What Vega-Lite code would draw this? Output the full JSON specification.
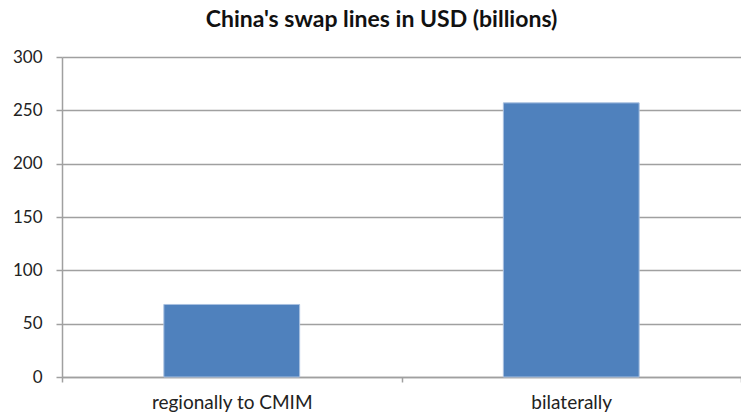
{
  "$schema": "https://vega.github.io/schema/vega-lite/v6.json",
  "width": 679,
  "height": 320,
  "autosize": {"type": "none"},
  "padding": {"left": 62, "top": 57, "right": 0, "bottom": 36},
  "background": "white",
  "title": {
    "text": "China's swap lines in USD (billions)",
    "font": "Lato",
    "fontSize": 23,
    "fontWeight": "bold",
    "color": "#111111",
    "anchor": "middle",
    "dx": -20,
    "offset": 16
  },
  "config": {
    "view": {"stroke": null},
    "axis": {"labelFont": "Lato", "labelFontSize": 17, "labelColor": "#222222"}
  },
  "data": {
    "values": [
      {"category": "regionally to CMIM", "value": 68},
      {"category": "bilaterally", "value": 257}
    ]
  },
  "mark": {"type": "bar", "width": {"band": 0.4}, "color": "#4f81bd", "stroke": "#a9c0e0", "strokeWidth": 1},
  "encoding": {
    "x": {
      "field": "category",
      "type": "nominal",
      "sort": null,
      "scale": {"paddingInner": 0, "paddingOuter": 0},
      "axis": {
        "title": null,
        "labelAngle": 0,
        "labelFontSize": 19,
        "tickBand": "extent",
        "domainColor": "#a0a0a0",
        "domainWidth": 1.5,
        "tickColor": "#a0a0a0",
        "tickWidth": 1.5,
        "tickSize": 5,
        "labelPadding": 11
      }
    },
    "y": {
      "field": "value",
      "type": "quantitative",
      "scale": {"domain": [0, 300]},
      "axis": {
        "title": null,
        "values": [0, 50, 100, 150, 200, 250, 300],
        "grid": true,
        "gridColor": "#a0a0a0",
        "gridWidth": 1.5,
        "domainColor": "#a0a0a0",
        "domainWidth": 1.5,
        "tickColor": "#a0a0a0",
        "tickWidth": 1.5,
        "tickSize": 6,
        "labelPadding": 14
      }
    }
  }
}
